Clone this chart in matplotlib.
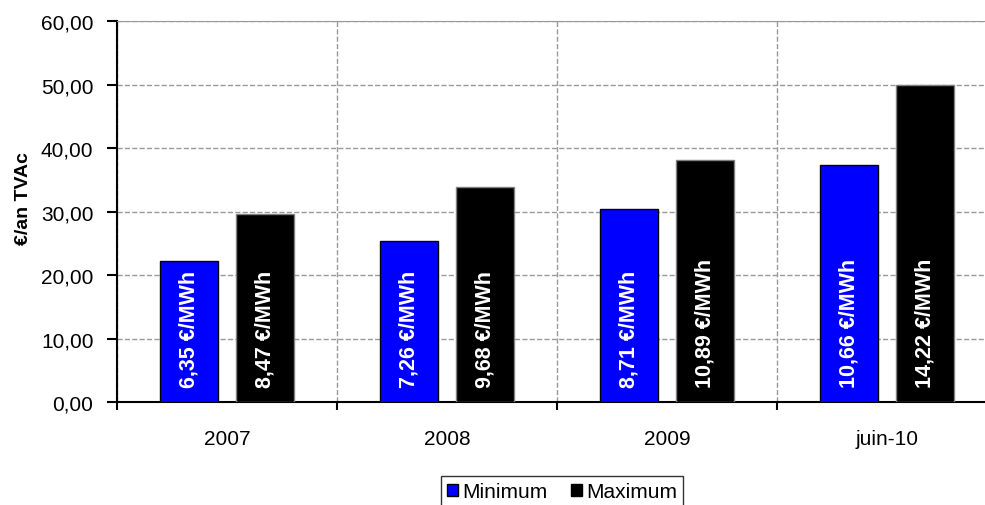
import numpy as np
import matplotlib
matplotlib.use('Agg')
import matplotlib.pyplot as plt
from matplotlib.patches import Patch

# ---------- données ----------
categories = ['2007', '2008', '2009', 'juin-10']
minimum = [22.23, 25.3, 30.4, 37.35]
maximum = [29.65, 33.8, 38.1, 49.9]
min_labels = ['6,35 €/MWh', '7,26 €/MWh', '8,71 €/MWh', '10,66 €/MWh']
max_labels = ['8,47 €/MWh', '9,68 €/MWh', '10,89 €/MWh', '14,22 €/MWh']
y_ticks = [0, 10, 20, 30, 40, 50, 60]

plt.rcParams['font.family'] = ['Liberation Sans', 'DejaVu Sans']

fig = plt.figure(figsize=(9.85, 5.06), dpi=100)
ax = fig.add_axes([0.1188, 0.203, 0.8934, 0.7536])

x = np.arange(len(categories))
w = 0.264
off = 0.173
ax.bar(x - off, minimum, w, color='#0000FF', edgecolor='black', linewidth=1, zorder=3)
ax.bar(x + off, maximum, w, color='black', edgecolor='#808080', linewidth=1, zorder=3)

# étiquettes verticales dans les barres
for xi, lab in zip(x - off, min_labels):
    ax.annotate(lab, xy=(xi, 0), xytext=(0, 11), textcoords='offset points',
                rotation=90, ha='center', va='bottom', color='white',
                fontsize=15.5, fontweight='bold', zorder=4)
for xi, lab in zip(x + off, max_labels):
    ax.annotate(lab, xy=(xi, 0), xytext=(0, 11), textcoords='offset points',
                rotation=90, ha='center', va='bottom', color='white',
                fontsize=15.5, fontweight='bold', zorder=4)

ax.set_xlim(-0.5, len(categories) - 0.5)
ax.set_ylim(0, 60)
ax.set_yticks(y_ticks)
ax.set_yticklabels([f"{v:.2f}".replace('.', ',') for v in y_ticks], fontsize=15)

# ticks aux frontières de catégories, étiquettes au centre
ax.set_xticks(np.arange(len(categories) + 1) - 0.5)
ax.set_xticklabels([])
ax.set_xticks(x, minor=True)
ax.set_xticklabels(categories, minor=True, fontsize=15)
ax.tick_params(axis='x', which='minor', length=0, pad=19)
ax.tick_params(axis='x', which='major', length=6, width=1.5, direction='out')
ax.tick_params(axis='y', length=7, width=1.5, direction='out', pad=10)

ax.grid(True, axis='y', color='#999999', linestyle='--', linewidth=1, zorder=0)
ax.grid(True, axis='x', which='major', color='#999999', linestyle='--', linewidth=1, zorder=0)

ax.spines['left'].set_linewidth(1.5)
ax.spines['bottom'].set_linewidth(1.5)
ax.spines['top'].set_color('#999999')
ax.spines['right'].set_visible(False)

ax.set_ylabel('€/an TVAc', fontsize=14, fontweight='bold')
ax.yaxis.set_label_coords(-0.097, 0.536)

handles = [Patch(facecolor='#0000FF', edgecolor='black', label='Minimum'),
           Patch(facecolor='black', edgecolor='black', label='Maximum')]
leg = fig.legend(handles=handles, loc='upper center', bbox_to_anchor=(0.5706, 0.057),
                 ncol=2, fontsize=15, frameon=True, fancybox=False,
                 handlelength=0.55, handleheight=0.55, handletextpad=0.2,
                 columnspacing=1.1, borderpad=0.3, borderaxespad=0)
leg.get_frame().set_edgecolor('black')
leg.get_frame().set_linewidth(1)

fig.savefig('out.png', dpi=100)
